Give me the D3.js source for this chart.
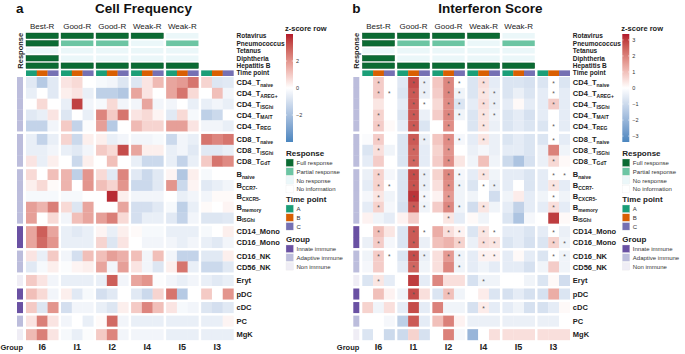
<!DOCTYPE html>
<html>
<head>
<meta charset="utf-8">
<script src="https://cdn.jsdelivr.net/npm/d3@7"></script>
<style>
  body { margin: 0; background: #fff; }
  text { font-family: "Liberation Sans", Arial, sans-serif; }
</style>
</head>
<body>
<div id="chart"></div>
<script>
// ---- data ----
const groups = ["I6", "I1", "I2", "I4", "I5", "I3"];
const groupTitles = ["Best-R", "Good-R", "Good-R", "Weak-R", "Weak-R", ""];
const timePoints = ["A", "B", "C"];
const vaccines = ["Rotavirus", "Pneumococcus", "Tetanus", "Diphtheria", "Hepatitis B"];
const responseLevels = ["Full response", "Partial response", "No response", "No information"];
// response per group, one entry per vaccine (F=full, P=partial, N=none, X=no information)
const responses = {
  I6: ["F", "F", "N", "F", "F"],
  I1: ["F", "P", "N", "N", "F"],
  I2: ["F", "P", "N", "N", "F"],
  I4: ["F", "N", "N", "N", "F"],
  I5: ["N", "P", "N", "N", "F"],
  I3: ["X", "X", "X", "X", "X"]
};
const cellGroups = ["Innate immune", "Adaptive immune", "Non immune"];

const rowMain = ["CD4_T", "CD4_T", "CD4_T", "CD4_T", "CD4_T", "CD8_T", "CD8_T", "CD8_T",
  "B", "B", "B", "B", "B", "CD14_Mono", "CD16_Mono", "CD16_NK", "CD56_NK",
  "Eryt", "pDC", "cDC", "PC", "MgK"];
const rowSub = ["naive", "AREG+", "ISGhi", "MAIT", "REG", "naive", "ISGhi", "GdT",
  "naive", "CCR7-", "CXCR5-", "memory", "ISGhi", "", "", "", "", "", "", "", "", ""];
const rowBlock = [0, 0, 0, 0, 0, 1, 1, 1, 2, 2, 2, 2, 2, 3, 3, 4, 4, 5, 6, 7, 8, 9];
const rowGroup = ["Adaptive immune", "Adaptive immune", "Adaptive immune", "Adaptive immune", "Adaptive immune",
  "Adaptive immune", "Adaptive immune", "Adaptive immune",
  "Adaptive immune", "Adaptive immune", "Adaptive immune", "Adaptive immune", "Adaptive immune",
  "Innate immune", "Innate immune", "Adaptive immune", "Adaptive immune",
  "Non immune", "Innate immune", "Innate immune", "Adaptive immune", "Non immune"];

// z-scores, columns: I6 A B C | I1 A B C | I2 A B C | I4 A B C | I5 A B C | I3 A B C
const cellFreq = [
  [-0.7, -1.7, -0.7, 0.5, 0.7, 0, -0.2, -0.3, -0.8, -0.8, 0.5, 1.3, 1.7, 1.9, 2.6, 0.8, -0.8, -0.7],
  [-0.5, 0, -0.7, 0.3, 0.5, -0.5, -1.5, -1.5, -1.8, 1.7, 0.5, 0, 1.7, 2.6, 0.7, 0, 1.2, -0.3],
  [0, 0.7, 0, -0.5, 3.5, -0.3, -0.2, 0.7, -0.3, -0.3, 1.7, -0.3, -0.3, 0, -0.5, -0.5, -0.3, -0.5],
  [-0.7, -0.5, 0.5, -0.8, 0, -0.5, 2.3, 1.0, 2.6, 0.5, 0.7, 0.2, -0.7, 0.7, -0.2, -1.5, -1.2, 0],
  [-1.4, -1.4, -0.3, 1.0, -1.4, -0.1, 1.8, -1.7, 0, 1.3, 0.8, 0.8, 1.8, 1.8, 0.5, -0.3, -0.3, -0.5],
  [-0.5, -1.4, -0.5, 0.8, -1.2, 0.3, 0.3, -0.5, -0.3, -0.3, -0.3, -0.2, -1.2, -0.3, -0.5, 2.6, 2.3, 2.6],
  [-0.5, -0.5, -0.3, -0.5, -0.7, -0.3, 1.0, 0.7, 3.3, 1.7, 0.3, 0.3, -0.5, -0.3, -0.7, -0.7, -0.7, -0.5],
  [0.5, -0.5, 0.3, 0, -1.2, 0.3, 0, 1.2, 0, -0.5, -1.2, -1.2, -0.5, -1.4, -0.5, 1.0, 2.6, 2.2],
  [0.7, 0, 1.2, 1.4, -1.5, 2.0, 0.7, -0.7, 2.3, -0.7, -1.2, -0.7, 0.2, -1.8, 0.3, -0.2, 0, 0],
  [0.3, 0.7, 0.1, 1.4, 0, 2.0, 1.2, 0.8, 2.0, -1.2, -1.2, -0.7, 2.0, -1.2, 0.2, -0.7, -0.5, -0.3],
  [-0.2, -0.2, -0.2, -0.2, -0.2, 0, 0, 3.8, 0.3, -0.3, -0.3, -0.3, 0, -0.5, -0.3, -0.3, 0.1, 0.1],
  [1.8, 1.4, 2.4, 0.7, -0.8, 1.7, 0, 0, 1.7, -1.0, -1.0, -0.7, -0.2, -1.5, -0.5, 0.1, 0, 0.2],
  [1.8, 0, 0.7, -0.3, 1.2, 1.7, 1.8, 2.4, 0.7, -1.0, -0.5, -0.5, -0.7, -1.4, -0.3, -0.8, -0.8, -0.7],
  [1.7, 3.0, 1.7, -0.5, -0.7, -0.5, 0.2, -0.5, 0.3, 0.1, -0.2, -0.2, -0.5, -0.5, -0.5, -0.2, 0, 0.3],
  [1.7, 2.8, 2.0, -0.5, -0.5, -0.5, 0.8, -0.8, 0.5, 0, -0.3, -0.3, -0.3, -0.5, -0.3, -0.5, -0.7, -0.3],
  [0.5, -0.5, 1.0, -0.3, -1.0, 1.2, 1.2, 1.8, 1.5, 1.2, -0.3, 1.2, -0.3, -1.4, -1.4, -0.7, -0.7, 0.3],
  [-0.7, -0.2, 0.3, -0.1, 0.2, 0.3, 1.7, -0.3, 1.8, 0.5, -0.3, -0.8, 0.3, 2.6, -0.5, -1.2, -1.2, -0.7],
  [1.0, 0.5, -0.3, -0.5, -0.5, -0.5, -0.5, 3.0, -0.3, 1.7, 2.0, -0.1, -0.3, -0.5, -0.3, -0.5, -0.7, -0.5],
  [1.2, 0.7, -0.3, 0.3, -0.7, -0.2, -1.0, -0.7, 0, -0.7, -1.2, 0.8, 2.6, -1.7, 0, 1.0, 0, 2.0],
  [1.0, -0.8, 2.0, -1.0, -0.3, -0.3, -0.5, -0.8, 0.3, 1.0, 2.3, 1.2, 0.5, -0.2, -0.3, -0.8, -1.0, -0.7],
  [0.5, 2.4, 0.5, -0.3, 0, -0.5, 0.1, 2.8, -0.3, -0.5, -0.5, -0.5, -0.5, -0.5, -0.5, -0.5, -0.5, 0.2],
  [1.3, 2.4, 0.5, -0.2, -0.5, -0.1, 1.0, 2.3, -0.3, -0.3, -0.3, -0.3, -0.5, -0.5, -0.5, -0.5, -0.5, -0.5]
];

const ifnScore = [
  [0, 0.8, 0, -0.6, 2.8, -0.4, 0.9, 1.9, 0, -0.7, 0.5, -0.5, -0.7, -0.7, -0.8, -0.7, 0, -0.7],
  [0, 0.8, 0, -0.7, 2.6, -0.4, 0.8, 1.9, -0.3, -0.7, 0.4, -0.4, -0.7, -0.4, -0.7, -0.5, 0, -0.5],
  [0, 0.4, 0, -0.5, 2.6, 0, 0.6, 1.8, -0.7, -0.5, 0.5, -0.4, -0.5, 0.1, -0.5, -0.5, 0.8, -0.5],
  [0, 0.7, 0, -0.7, 2.6, -0.4, 0.8, 1.9, -0.3, -0.7, 0.4, -0.3, -0.7, -0.5, -0.8, -0.5, 0, -0.5],
  [0, 0.8, 0.1, -0.5, 2.6, -0.7, 0, 1.8, 0, -0.7, 0.4, -0.4, -0.7, -0.5, -0.7, -0.7, 0, -0.5],
  [-0.1, 0.8, 0, -0.7, 2.6, -0.4, 0.9, 1.8, -0.2, -0.5, 0.4, -0.4, -0.7, -0.5, -0.7, -0.7, 0, -0.5],
  [-0.7, 0.5, -0.3, -0.7, 2.4, -0.5, 0.7, 1.7, 0, -0.4, -0.2, -0.4, -0.5, -0.5, -0.7, -0.4, 2.0, -0.3],
  [-0.5, 0.8, 0, -0.7, 2.4, -0.5, 0.8, 1.8, 0.4, -0.3, 1.0, -0.3, -1.0, -1.6, -0.8, -0.4, 0.6, 0.1],
  [-0.4, 0.7, -0.2, -0.7, 2.8, -0.4, 0.7, 1.9, -0.2, -0.5, 0.4, -0.3, -0.5, -0.5, -0.7, -0.5, 0, 0],
  [-0.5, 0.7, 0, -0.7, 2.7, -0.4, 0.5, 1.8, -0.3, -0.7, 0, -0.4, -0.5, 0, -0.7, -0.5, 0.4, -0.5],
  [-0.2, 0.4, -0.3, -0.7, 3.1, -0.2, 0.2, 1.6, -0.3, -0.3, 0, -0.9, -0.3, 0.3, -0.5, -0.3, 0, -0.3],
  [-0.5, 0.7, -0.2, -0.8, 2.6, -0.3, 0.8, 1.9, -0.3, -0.9, 0.4, -0.3, -0.5, -1.2, -0.5, -0.5, 0.5, -0.5],
  [0.2, -0.3, -0.5, 0.2, 0.8, 0, 0, 0.4, -0.5, 0.1, -0.3, 0, -0.7, -1.6, -0.2, 0, 3.0, 0.1],
  [0, 1.0, 0.4, -0.7, 2.6, 0, 1.3, 0.5, 0.2, -0.7, 0.4, 0, -0.5, -0.5, -0.7, -0.5, 0, -0.4],
  [-0.4, 0.8, -0.2, -0.7, 2.6, -0.4, 1.0, 1.2, 0.7, -0.4, 0.5, 0.4, -0.7, -0.5, -0.8, -0.7, 0.7, -0.3],
  [-0.3, 0.8, 0, -0.7, 2.8, -0.4, 0.5, 1.6, -0.3, -0.5, 0.2, 0.2, -0.5, 0.1, -0.5, -0.7, 0, -0.3],
  [-0.2, 0.8, 0, -0.5, 2.4, -0.3, 0.5, 1.9, -0.3, -0.5, -0.3, -0.5, -0.5, -0.5, -0.8, -0.3, 0.8, -0.3],
  [-0.7, 0.4, -0.5, 0, 3.0, -0.5, 1.9, 0.5, 0.5, -0.8, -0.3, -0.3, 0, 0, -0.3, -0.7, 0.1, -0.9],
  [0, 1.0, 0.2, -0.3, 2.8, 0.5, -0.7, 1.0, -0.3, 0, 0.3, -0.7, -0.8, -0.5, -0.8, -0.8, 1.3, -0.7],
  [0.7, -0.3, 0.5, -0.5, 2.8, -0.5, 2.0, -0.3, -0.3, -0.8, 0.3, -0.5, -0.5, -0.3, -0.8, -0.8, -0.5, 0.1],
  [0, 0, -0.2, -1.3, 2.6, -0.5, 1.0, 2.0, 0.2, -0.4, -0.4, -0.4, -0.4, -0.4, -0.4, -0.4, -0.4, 0],
  [-0.7, 0, -1.0, -1.0, 0.7, -0.8, 0, 2.0, -0.2, -2.0, 0, 0.5, 0.5, 0.5, 0.5, 0.5, 0.5, 0.5]
];

// significance marks for the interferon score (1 = "*")
const ifnSig = [
  "010011011010000010",
  "011011011011000010",
  "000011011011000010",
  "010010011011000000",
  "010010010010000010",
  "010011011010000010",
  "010010010000000000",
  "000010010000000010",
  "010011011010000011",
  "011011011011000010",
  "010011010000000010",
  "010011011010000010",
  "000000010000000000",
  "010011011011000010",
  "010010001011000011",
  "011011011011000011",
  "000010001000000000",
  "010000000010000000",
  "000010010000000000",
  "000000000010000000",
  "000000000000000000",
  "000000000000000000"
];

// ---- setup ----
const svg = d3.select("#chart").append("svg")
  .attr("width", 685)
  .attr("height", 354);

const responseColor = d3.scaleOrdinal()
  .domain(["F", "P", "N", "X"])
  .range(["#0b6b33", "#6cc5a3", "#ebf7f9", "#ffffff"]);
const tpColor = d3.scaleOrdinal().domain(timePoints).range(["#1b9e77", "#d95f02", "#7570b3"]);
const groupColor = d3.scaleOrdinal().domain(cellGroups).range(["#6a51a3", "#bcbddc", "#efedf5"]);

const hmWidth = 207.5;
const rowH = 10.85, blockGap = 2.7, hmTop = 77;
const gx = d3.scaleBand().domain(groups).range([0, hmWidth]).paddingInner(0.077);
const tx = d3.scaleBand().domain(timePoints).range([0, gx.bandwidth()]);
const ry = d3.scaleBand().domain(d3.range(rowMain.length)).range([0, rowMain.length * rowH]);
const rowY = i => hmTop + ry(i) + rowBlock[i] * blockGap;
const colX = j => gx(groups[Math.floor(j / 3)]) + tx(timePoints[j % 3]);

const annY = d3.scaleBand().domain(vaccines.concat(["Time point"])).range([33, 76]).paddingInner(0.25);

function drawPanel(p) {
  const g = svg.append("g").attr("transform", `translate(${p.x0},0)`);
  const color = d3.scaleLinear()
    .domain([-p.max, 0, p.max])
    .range(["#4a86bf", "#ffffff", "#b2182b"])
    .interpolate(d3.interpolateLab)
    .clamp(true);

  // titles
  g.append("text").attr("x", -10).attr("y", 13).attr("font-size", 13.5).attr("font-weight", "bold")
    .attr("fill", "#111").text(p.letter);
  g.append("text").attr("x", p.titleX).attr("y", 13).attr("font-size", 13.5).attr("font-weight", "bold")
    .attr("text-anchor", "middle").attr("fill", "#111").text(p.title);

  // column titles
  g.selectAll(".ctitle").data(groups).join("text")
    .attr("x", d => gx(d) + gx.bandwidth() / 2)
    .attr("y", 28.5)
    .attr("font-size", 8)
    .attr("text-anchor", "middle")
    .attr("fill", "#222")
    .text((d, i) => groupTitles[i]);

  // response annotation
  groups.forEach(grp => {
    vaccines.forEach((v, k) => {
      const code = responses[grp][k];
      g.append("rect")
        .attr("x", gx(grp)).attr("y", annY(v))
        .attr("width", gx.bandwidth()).attr("height", annY.bandwidth())
        .attr("fill", responseColor(code))
        .attr("stroke", code === "F" ? "#0a4f26" : "none")
        .attr("stroke-width", 0.4);
    });
    timePoints.forEach(t => {
      g.append("rect")
        .attr("x", gx(grp) + tx(t)).attr("y", annY("Time point"))
        .attr("width", tx.bandwidth() + 0.2).attr("height", annY.bandwidth())
        .attr("fill", tpColor(t));
    });
  });

  g.append("text")
    .attr("transform", `translate(${-3.5},${(annY(vaccines[0]) + annY(vaccines[4]) + annY.bandwidth()) / 2}) rotate(-90)`)
    .attr("text-anchor", "middle").attr("font-size", 7.5).attr("font-weight", "bold").attr("fill", "#222")
    .text("Response");

  g.selectAll(".annlab").data(vaccines.concat(["Time point"])).join("text")
    .attr("x", hmWidth + 3)
    .attr("y", d => annY(d) + annY.bandwidth() / 2 + 2.3)
    .attr("font-size", 6.5).attr("font-weight", "bold").attr("fill", "#222")
    .text(d => d);

  // heatmap cells
  const vals = p.values;
  vals.forEach((row, i) => {
    row.forEach((v, j) => {
      g.append("rect")
        .attr("x", colX(j)).attr("y", rowY(i))
        .attr("width", tx.bandwidth() + 0.2).attr("height", rowH + 0.2)
        .attr("fill", color(v));
      if (p.sig && p.sig[i][j] === "1") {
        g.append("text")
          .attr("x", colX(j) + tx.bandwidth() / 2)
          .attr("y", rowY(i) + rowH / 2 + 3.2)
          .attr("text-anchor", "middle").attr("font-size", 6.5).attr("fill", "#555")
          .text("*");
      }
    });
    // group annotation
    g.append("rect")
      .attr("x", -9).attr("y", rowY(i))
      .attr("width", 6).attr("height", rowH + 0.2)
      .attr("fill", groupColor(rowGroup[i]));
    // row label
    const lab = g.append("text")
      .attr("x", hmWidth + 3)
      .attr("y", rowY(i) + rowH / 2 + 2.8)
      .attr("font-size", 7.5).attr("font-weight", "bold").attr("fill", "#222");
    lab.append("tspan").text(rowMain[i]);
    if (rowSub[i]) {
      lab.append("tspan").attr("dy", 1.6).attr("font-size", 5).text(rowSub[i]);
    }
  });

  // bottom labels
  g.selectAll(".glab").data(groups).join("text")
    .attr("x", d => gx(d) + gx.bandwidth() / 2)
    .attr("y", 350)
    .attr("text-anchor", "middle").attr("font-size", 9).attr("font-weight", "bold").attr("fill", "#222")
    .text(d => d);
  g.append("text").attr("x", -3).attr("y", 350).attr("text-anchor", "end")
    .attr("font-size", 7.5).attr("font-weight", "bold").attr("fill", "#222").text("Group");

  // ---- legends ----
  const lx = p.x0 + 260;
  const lg = svg.append("g").attr("transform", `translate(${lx},0)`);
  lg.append("text").attr("x", -1).attr("y", 31).attr("font-size", 7.5).attr("font-weight", "bold")
    .attr("fill", "#222").text("z-score row");
  const ly = d3.scaleLinear().domain([p.max, -p.max]).range([34, 142]);
  const gradId = "grad" + p.letter;
  const grad = svg.append("defs").append("linearGradient").attr("id", gradId)
    .attr("x1", 0).attr("y1", 0).attr("x2", 0).attr("y2", 1);
  d3.range(0, 1.0001, 0.05).forEach(t => {
    grad.append("stop").attr("offset", t).attr("stop-color", color(p.max - 2 * p.max * t));
  });
  lg.append("rect").attr("x", 0).attr("y", 34).attr("width", 7).attr("height", 108)
    .attr("fill", `url(#${gradId})`);
  p.ticks.forEach(t => {
    lg.append("line").attr("x1", 0).attr("x2", 1.2).attr("y1", ly(t)).attr("y2", ly(t))
      .attr("stroke", "#fff").attr("stroke-width", 0.6);
    lg.append("line").attr("x1", 5.8).attr("x2", 7).attr("y1", ly(t)).attr("y2", ly(t))
      .attr("stroke", "#fff").attr("stroke-width", 0.6);
    lg.append("text").attr("x", 10).attr("y", ly(t) + 2).attr("font-size", 5.5).attr("fill", "#333")
      .text(t < 0 ? "\u2212" + Math.abs(t) : t);
  });

  function discreteLegend(title, y0, items, fill) {
    lg.append("text").attr("x", 0).attr("y", y0).attr("font-size", 8).attr("font-weight", "bold")
      .attr("fill", "#222").text(title);
    items.forEach((it, k) => {
      const yy = y0 + 3 + k * 8.8;
      lg.append("rect").attr("x", 0).attr("y", yy).attr("width", 7.5).attr("height", 7.5)
        .attr("fill", fill(it, k)).attr("stroke", "#e6e6e6").attr("stroke-width", 0.3);
      lg.append("text").attr("x", 10.5).attr("y", yy + 6).attr("font-size", 6).attr("fill", "#333")
        .text(it);
    });
  }
  discreteLegend("Response", 156, responseLevels, (it, k) => responseColor(["F", "P", "N", "X"][k]));
  discreteLegend("Time point", 202, timePoints, it => tpColor(it));
  discreteLegend("Group", 242, cellGroups, it => groupColor(it));
}

drawPanel({
  x0: 26, letter: "a", title: "Cell Frequency", titleX: 117.5,
  values: cellFreq, sig: null, max: 4, ticks: [2, 0, -2]
});
drawPanel({
  x0: 362.3, letter: "b", title: "Interferon Score", titleX: 128,
  values: ifnScore, sig: ifnSig, max: 3.37, ticks: [3, 2, 1, 0, -1, -2, -3]
});
</script>
</body>
</html>
